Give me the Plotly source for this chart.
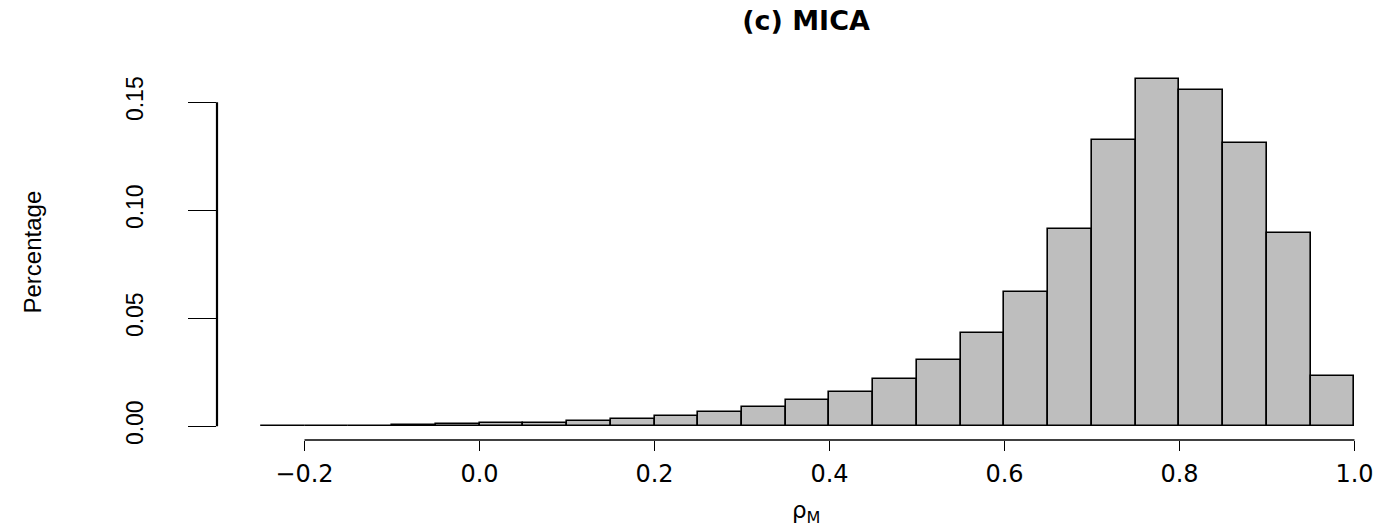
import plotly.graph_objects as go

# Histogram data (bin width 0.05)
bin_left = [-0.25, -0.20, -0.15, -0.10, -0.05, 0.00, 0.05, 0.10, 0.15, 0.20,
            0.25, 0.30, 0.35, 0.40, 0.45, 0.50, 0.55, 0.60, 0.65, 0.70,
            0.75, 0.80, 0.85, 0.90, 0.95]
density = [0.0001, 0.0002, 0.0003, 0.0006, 0.0011, 0.0017, 0.0017, 0.0026, 0.0035, 0.0049,
           0.0064, 0.0088, 0.0120, 0.0157, 0.0218, 0.0305, 0.0430, 0.0620, 0.0912, 0.1327,
           0.1606, 0.1554, 0.1309, 0.0894, 0.0233]
bin_width = 0.05

x_ticks = [-0.2, 0.0, 0.2, 0.4, 0.6, 0.8, 1.0]
x_tick_text = ["\u22120.2", "0.0", "0.2", "0.4", "0.6", "0.8", "1.0"]
y_ticks = [0.00, 0.05, 0.10, 0.15]
y_tick_text = ["0.00", "0.05", "0.10", "0.15"]

title_text = "(c) MICA"
x_label = "\u03c1<sub>M</sub>"
y_label = "Percentage"

fig = go.Figure()
fig.add_trace(go.Bar(
    x=bin_left, y=density, width=bin_width, offset=0,
    marker=dict(color="#BEBEBE", line=dict(color="black", width=1.6)),
    showlegend=False, hoverinfo="x+y",
))

W, H = 1395, 529
L, R, T, B = 217, 0, 65, 89

fig.update_layout(
    width=W, height=H,
    margin=dict(l=L, r=R, t=T, b=B, pad=0),
    plot_bgcolor="white", paper_bgcolor="white",
    bargap=0,
    title=dict(text="<b>" + title_text + "</b>", x=0.5, xref="paper", xanchor="center",
               y=1 - 21 / H, yref="container", yanchor="middle",
               font=dict(family="DejaVu Sans", size=27, color="black")),
    xaxis=dict(range=[-0.3, 1.0463], tickvals=x_ticks, ticktext=x_tick_text,
               ticks="outside", ticklen=10, tickwidth=1.3, tickcolor="black",
               showgrid=False, zeroline=False, showline=False,
               ticklabelstandoff=2,
               tickfont=dict(family="DejaVu Sans", size=24, color="black")),
    yaxis=dict(range=[-0.0064, 0.1672], tickvals=y_ticks, ticktext=y_tick_text,
               ticks="outside", ticklen=28, tickwidth=1.3, tickcolor="black",
               tickangle=-90, ticklabelstandoff=36,
               showgrid=False, zeroline=False, showline=False,
               tickfont=dict(family="Liberation Sans", size=23, color="black")),
)

# R-style axis lines spanning first to last tick
fig.add_shape(type="line", xref="x", yref="paper", x0=x_ticks[0], x1=x_ticks[-1], y0=0, y1=0,
              line=dict(color="black", width=1.3))
fig.add_shape(type="line", xref="paper", yref="y", x0=0, x1=0, y0=y_ticks[0], y1=y_ticks[-1],
              line=dict(color="black", width=2.2))

plot_w = W - L - R
plot_h = H - T - B
fig.add_annotation(text=x_label, xref="paper", yref="paper", x=0.5, y=-(512 - (H - B)) / plot_h,
                   xanchor="center", yanchor="middle", showarrow=False,
                   font=dict(family="DejaVu Sans", size=23, color="black"))
fig.add_annotation(text=y_label, xref="paper", yref="paper", x=(32 - L) / plot_w, y=0.5,
                   xanchor="center", yanchor="middle", textangle=-90, showarrow=False,
                   font=dict(family="Liberation Sans", size=24, color="black"))

fig.write_html("out.html")
